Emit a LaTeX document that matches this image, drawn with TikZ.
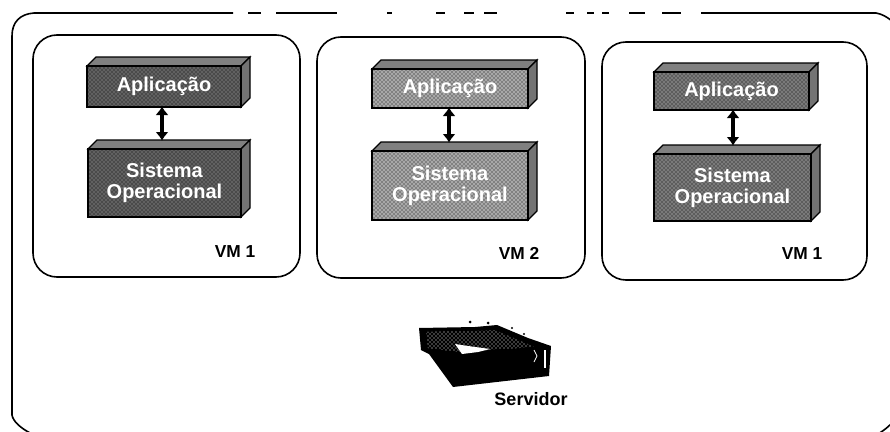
\documentclass[tikz,border=0pt]{standalone}
\usepackage{fontspec}
\setmainfont{Liberation Sans}
\usetikzlibrary{arrows.meta,patterns,calc}
\tikzset{
  x=0.75pt,y=-0.75pt,
  panel/.style={draw=black,line width=1.2pt,rounded corners=18pt},
  frameline/.style={draw=black,line width=1.2pt},
  darkface/.style={preaction={fill=black!62},pattern=crosshatch dots,pattern color=black},
  lightface/.style={preaction={fill=black!34},pattern=crosshatch dots,pattern color=black},
  midface/.style={preaction={fill=black!52},pattern=crosshatch dots,pattern color=black},
  blockfront/.style={draw=black,line width=1.2pt,text=white,inner sep=0pt,align=center,
    font=\bfseries\fontsize{15pt}{15.5pt}\selectfont},
  topface/.style={draw=black,line width=0.9pt,fill=black!50},
  sideface/.style={draw=black,line width=0.9pt,fill=black!55},
  vmlabel/.style={font=\bfseries\fontsize{13pt}{15pt}\selectfont,inner sep=0pt},
  link/.style={{Latex[length=6.5pt,width=10pt]}-{Latex[length=6.5pt,width=10pt]},line width=2.8pt,shorten <=-0.5pt,shorten >=-0.5pt}
}
% name, x1, y1, x2, y2, face style, text, connector x
\newcommand{\blockbox}[8]{%
  \draw[topface] (#2,#3+9) -- (#2+9,#3) -- (#4,#3) -- (#4-9,#3+9) -- cycle;
  \draw[sideface] (#4-9,#3+9) -- (#4,#3) -- (#4,#5-9) -- (#4-9,#5) -- cycle;
  \path let \n1={(#4-9-#2)*0.75pt}, \n2={(#5-#3-9)*0.75pt} in
    node[blockfront,#6,minimum width=\n1,minimum height=\n2] (#1)
      at ({(#2+#4-9)/2},{(#3+#5+9)/2}) {#7};
  \coordinate (#1t) at (#8,#3);
  \coordinate (#1b) at (#8,#5);
}
\begin{document}
\begin{tikzpicture}
\useasboundingbox (0,0) rectangle (890,432);
\fill[white] (0,0) rectangle (890,432);
\begin{scope}
\clip (0,0) rectangle (890,432);
% outer frame, cut by the picture's edge and broken along the top
\draw[frameline] (233,13) -- (34,13) .. controls (20,14) and (12,22) .. (12,36) -- (12,415) .. controls (13,421) and (20,428) .. (32,434);
\draw[frameline] (701,13) -- (876,13) .. controls (882,14) and (887,17) .. (892,21);
\draw[frameline] (878,434) .. controls (883,431) and (887,428) .. (892,423);
\foreach \a/\b in {248/261,276/337,387/392,436/445,464/474,484/497,566/574,587/594,602/609,629/645,662/681}
  \draw[line width=0.9pt] (\a,13) -- (\b,13);
\end{scope}
\draw[panel] (33,35) rectangle (300,277);
\draw[panel] (317,37) rectangle (585,278);
\draw[panel] (602,42) rectangle (867,280);
% VM 1
\blockbox{a1}{87}{57}{250}{107}{darkface}{Aplicação}{162}
\blockbox{s1}{88}{140}{250}{217}{darkface}{Sistema\\Operacional}{162}
\draw[link] (a1b) -- (s1t);
\node[vmlabel] (v1) at (235,252) {VM 1};
% VM 2
\blockbox{a2}{372}{60}{537}{108}{lightface}{Aplicação}{449}
\blockbox{s2}{372}{142}{537}{220}{lightface}{Sistema\\Operacional}{449}
\draw[link] (a2b) -- (s2t);
\node[vmlabel] (v2) at (519,253) {VM 2};
% VM 3
\blockbox{a3}{654}{63}{818}{110}{midface}{Aplicação}{733}
\blockbox{s3}{654}{145}{820}{221}{midface}{Sistema\\Operacional}{733}
\draw[link] (a3b) -- (s3t);
\node[vmlabel] (v3) at (802,254) {VM 1};
% server
\fill[black] (419,328) -- (421,350) -- (429,354) -- (453,387) -- (549,376) -- (551,346) -- (528,338) -- (497,325) -- (475,327) -- cycle;
\fill[pattern=crosshatch dots,pattern color=white] (426,332) -- (428,348) -- (458,352) -- (535,347) -- (495,330) -- cycle;
\fill[white] (455,344) -- (462,354) -- (478,352) -- (490,349) -- (468,346) -- cycle;
\draw[white,line width=0.8pt] (545,350) -- (545,368);
\draw[white,line width=0.6pt] (534,350) -- (537,356) -- (534,362);
\fill (470,322) circle (1.5);
\fill (488,323) circle (1.5);
\fill (512,328) circle (1.2);
\fill (524,334) circle (1.2);
\node[font=\bfseries\fontsize{13.5pt}{15pt}\selectfont,inner sep=0pt] (srv) at (531,399) {Servidor};
\end{tikzpicture}
\end{document}
